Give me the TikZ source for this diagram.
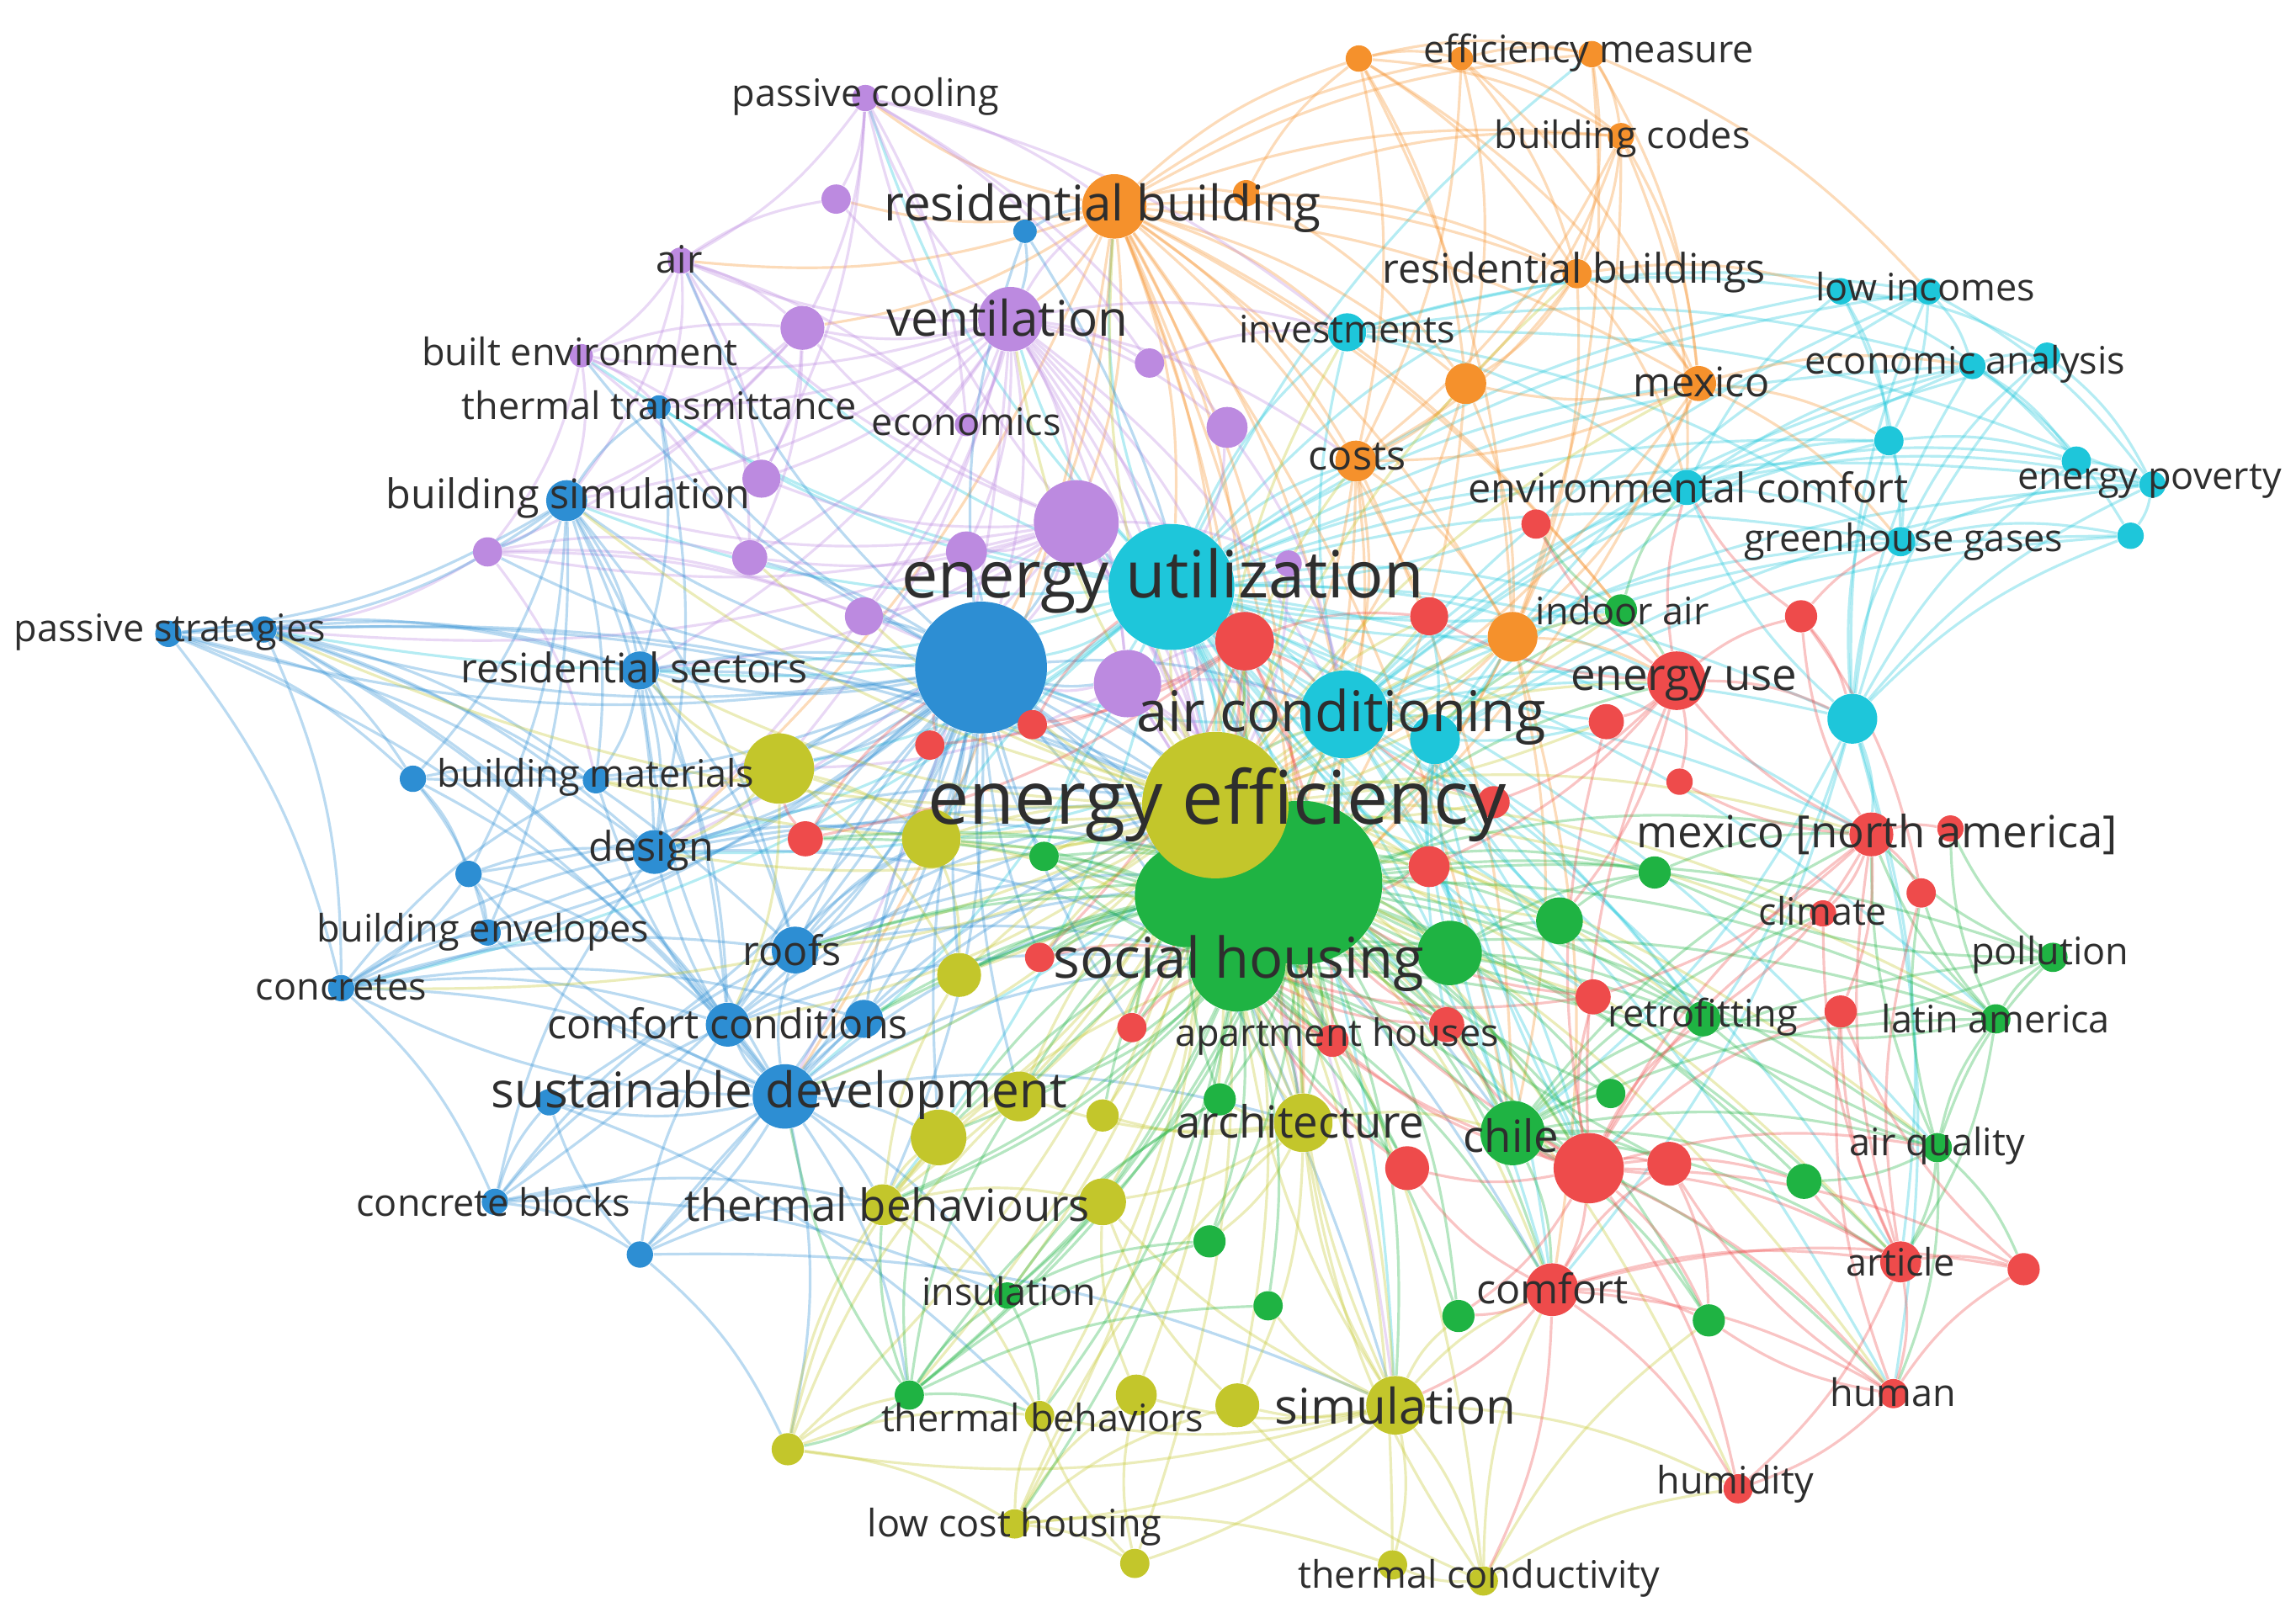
\documentclass[tikz,border=0pt]{standalone}
\usepackage{fontspec}
\setmainfont{Open Sans}
\pgfdeclarelayer{background}
\pgfsetlayers{background,main}
\definecolor{cRed}{HTML}{EE4B4B}
\definecolor{cGrn}{HTML}{1FB343}
\definecolor{cBlu}{HTML}{2D8ED3}
\definecolor{cYel}{HTML}{C3C62B}
\definecolor{cPur}{HTML}{BC8AE0}
\definecolor{cCya}{HTML}{1EC6DA}
\definecolor{cOra}{HTML}{F5912C}

\begin{document}
\begin{tikzpicture}[
        x=0.0174cm, y=-0.0174cm,
        kw/.style={circle, inner sep=0pt, minimum size=#1*0.348mm},
        rnode/.style={kw=#1, fill=cRed},
        gnode/.style={kw=#1, fill=cGrn},
        bnode/.style={kw=#1, fill=cBlu},
        ynode/.style={kw=#1, fill=cYel},
        pnode/.style={kw=#1, fill=cPur},
        cnode/.style={kw=#1, fill=cCya},
        onode/.style={kw=#1, fill=cOra},
        link/.style={line width=.9pt, draw opacity=.33, bend left=12},
        redge/.style={link, draw=cRed},
        gedge/.style={link, draw=cGrn},
        bedge/.style={link, draw=cBlu},
        yedge/.style={link, draw=cYel},
        pedge/.style={link, draw=cPur},
        cedge/.style={link, draw=cCya},
        oedge/.style={link, draw=cOra},
        lbl/.style={inner sep=0pt, text=black!82},
        lS/.style={lbl, font=\fontsize{12.8}{14}\selectfont},
        lM/.style={lbl, font=\fontsize{13.8}{15}\selectfont},
        lL/.style={lbl, font=\fontsize{15}{17}\selectfont},
        lXL/.style={lbl, font=\fontsize{16.6}{19}\selectfont},
        lH/.style={lbl, font=\fontsize{19}{22}\selectfont},
        lT/.style={lbl, font=\fontsize{22}{26}\selectfont},
        lTT/.style={lbl, font=\fontsize{25}{29}\selectfont}
    ]
    \useasboundingbox (0,0) rectangle (1568,1105);

    % orange cluster
    \node[onode=9]  (em1) at (928,40) {};
    \node[onode=8]  (em2) at (998,40) {};
    \node[onode=9]  (em)  at (1087,37) {};
    \node[onode=9]  (bc)  at (1107,93) {};
    \node[onode=22] (rb)  at (761,141) {};
    \node[onode=9]  (o1)  at (851,132) {};
    \node[onode=10] (rbs) at (1077,187) {};
    \node[onode=12] (mex) at (1160,262) {};
    \node[onode=14] (o2)  at (1001,262) {};
    \node[onode=14] (cst) at (926,315) {};
    \node[onode=17] (o3)  at (1033,435) {};

    % cyan cluster
    \node[cnode=43] (eu)  at (800,401) {};
    \node[cnode=30] (ac)  at (918,488) {};
    \node[cnode=17] (c1)  at (980,505) {};
    \node[cnode=13] (inv) at (920,227) {};
    \node[cnode=9]  (li1) at (1257,199) {};
    \node[cnode=9]  (li)  at (1317,199) {};
    \node[cnode=9]  (ea)  at (1347,250) {};
    \node[cnode=9]  (ea2) at (1398,243) {};
    \node[cnode=10] (c2)  at (1290,301) {};
    \node[cnode=10] (ep1) at (1418,315) {};
    \node[cnode=9]  (ep)  at (1470,331) {};
    \node[cnode=12] (ec)  at (1152,333) {};
    \node[cnode=10] (gg)  at (1298,370) {};
    \node[cnode=9]  (gg2) at (1455,366) {};
    \node[cnode=17] (c3)  at (1265,491) {};

    % purple cluster
    \node[pnode=9]  (pc)  at (591,67) {};
    \node[pnode=10] (p1)  at (571,136) {};
    \node[pnode=9]  (air) at (465,178) {};
    \node[pnode=8]  (be)  at (397,243) {};
    \node[pnode=22] (ven) at (690,218) {};
    \node[pnode=15] (p2)  at (548,224) {};
    \node[pnode=10] (p3)  at (785,248) {};
    \node[pnode=14] (p4)  at (838,292) {};
    \node[pnode=8]  (eco) at (660,290) {};
    \node[pnode=13] (p5)  at (520,327) {};
    \node[pnode=10] (p6)  at (333,377) {};
    \node[pnode=12] (p7)  at (512,381) {};
    \node[pnode=29] (p8)  at (735,357) {};
    \node[pnode=14] (p9)  at (660,377) {};
    \node[pnode=13] (p10) at (590,421) {};
    \node[pnode=23] (p11) at (770,467) {};
    \node[pnode=9]  (p12) at (880,385) {};

    % blue cluster
    \node[bnode=8]  (tt)  at (450,278) {};
    \node[bnode=14] (bs)  at (387,342) {};
    \node[bnode=9]  (ps1) at (115,433) {};
    \node[bnode=9]  (ps)  at (180,430) {};
    \node[bnode=13] (rs)  at (437,458) {};
    \node[bnode=45] (b1)  at (670,456) {};
    \node[bnode=8]  (b2)  at (700,158) {};
    \node[bnode=9]  (bm1) at (282,532) {};
    \node[bnode=9]  (bm)  at (407,533) {};
    \node[bnode=15] (des) at (447,582) {};
    \node[bnode=9]  (b3)  at (320,597) {};
    \node[bnode=9]  (ben) at (333,637) {};
    \node[bnode=16] (rf)  at (543,649) {};
    \node[bnode=9]  (con) at (233,675) {};
    \node[bnode=15] (cc)  at (497,700) {};
    \node[bnode=13] (cc2) at (590,696) {};
    \node[bnode=22] (sd)  at (536,749) {};
    \node[bnode=9]  (b4)  at (375,753) {};
    \node[bnode=9]  (cb)  at (338,821) {};
    \node[bnode=9]  (b5)  at (437,857) {};

    % yellow cluster
    \node[ynode=24] (y1)  at (532,525) {};
    \node[ynode=20] (y2)  at (636,573) {};
    \node[ynode=15] (y3)  at (655,666) {};
    \node[ynode=17] (y4)  at (696,749) {};
    \node[ynode=11] (y5)  at (753,762) {};
    \node[ynode=20] (arc) at (890,767) {};
    \node[ynode=19] (y6)  at (641,777) {};
    \node[ynode=14] (tb)  at (603,823) {};
    \node[ynode=16] (y7)  at (753,821) {};
    \node[ynode=14] (y8)  at (776,953) {};
    \node[ynode=15] (y9)  at (845,960) {};
    \node[ynode=20] (sim) at (953,960) {};
    \node[ynode=11] (y10) at (538,990) {};
    \node[ynode=10] (tbs) at (710,967) {};
    \node[ynode=10] (lch) at (693,1041) {};
    \node[ynode=10] (y11) at (775,1068) {};
    \node[ynode=10] (tc1) at (951,1069) {};
    \node[ynode=10] (tc)  at (1013,1080) {};

    % green cluster
    \node[gnode=35] (g2)  at (810,612) {};
    \node[gnode=56] (g1)  at (888,603) {};
    \node[gnode=33] (sh)  at (845,658) {};
    \node[gnode=22] (g3)  at (990,651) {};
    \node[gnode=16] (g4)  at (1065,629) {};
    \node[gnode=11] (g5)  at (1130,596) {};
    \node[gnode=10] (g6)  at (713,585) {};
    \node[gnode=11] (ia)  at (1107,417) {};
    \node[gnode=22] (chl) at (1033,774) {};
    \node[gnode=12] (ret) at (1163,696) {};
    \node[gnode=10] (la)  at (1363,696) {};
    \node[gnode=10] (pol) at (1402,654) {};
    \node[gnode=10] (aq)  at (1323,784) {};
    \node[gnode=12] (g7)  at (1232,807) {};
    \node[gnode=10] (g8)  at (1100,747) {};
    \node[gnode=11] (g9)  at (833,751) {};
    \node[gnode=11] (g10) at (826,848) {};
    \node[gnode=10] (g11) at (866,892) {};
    \node[gnode=11] (g12) at (996,899) {};
    \node[gnode=11] (g13) at (1167,902) {};
    \node[gnode=9]  (ins) at (688,885) {};
    \node[gnode=10] (g14) at (621,953) {};

    % yellow hub on top of green
    \node[ynode=50] (ee)  at (830,550) {};

    % red cluster
    \node[rnode=20] (r1)  at (850,438) {};
    \node[rnode=13] (r2)  at (976,421) {};
    \node[rnode=10] (r3)  at (1049,358) {};
    \node[rnode=11] (r4)  at (1230,421) {};
    \node[rnode=20] (eus) at (1145,465) {};
    \node[rnode=12] (r5)  at (1097,493) {};
    \node[rnode=9]  (r6)  at (1147,534) {};
    \node[rnode=10] (r7)  at (705,495) {};
    \node[rnode=10] (r8)  at (635,509) {};
    \node[rnode=12] (r9)  at (550,573) {};
    \node[rnode=11] (r10) at (1020,548) {};
    \node[rnode=14] (r11) at (976,592) {};
    \node[rnode=15] (mna) at (1278,570) {};
    \node[rnode=9]  (r12) at (1332,566) {};
    \node[rnode=10] (r13) at (1312,610) {};
    \node[rnode=9]  (cli) at (1245,624) {};
    \node[rnode=12] (r14) at (1088,681) {};
    \node[rnode=11] (r15) at (1257,691) {};
    \node[rnode=10] (r16) at (710,654) {};
    \node[rnode=10] (r17) at (773,702) {};
    \node[rnode=11] (ah)  at (910,711) {};
    \node[rnode=12] (r18) at (988,700) {};
    \node[rnode=15] (r19) at (961,798) {};
    \node[rnode=24] (r20) at (1085,798) {};
    \node[rnode=15] (r21) at (1140,795) {};
    \node[rnode=18] (cmf) at (1060,881) {};
    \node[rnode=14] (art) at (1298,862) {};
    \node[rnode=11] (r22) at (1382,867) {};
    \node[rnode=10] (hum) at (1293,952) {};
    \node[rnode=10] (hmd) at (1187,1017) {};

    % links
    \begin{pgfonlayer}{background}
    \foreach \t in {ac,c1,inv,li1,li,ea,ec,gg,c2,c3,ep,cst,rb,ven,b1,ee,sh,g1,r1,p8,eus,mex,rbs,ia,ret,mna,bs,rs,des,sd,arc,chl,cmf,sim,y1,tb,pc,air,be,tt,em,r20,hum,aq,ps,con,la}
        \draw[cedge] (eu) to (\t);
    \foreach \t in {c1,c3,gg,ec,ea,li,inv,ee,g1,sh,eus,mna,r20,chl,art,ep,gg2,c2,ea2,cmf,ret,b1,des,sd}
        \draw[cedge] (ac) to (\t);
    \foreach \t in {gg2,ep,ep1,ea2,li,ea,gg,c2,ec,mna,r20,cmf,art,hum,chl}
        \draw[cedge] (c3) to (\t);
    \foreach \s/\t in {li/ea,li/c2,li1/ea2,li1/gg,ea/gg2,ea/ep1,ea2/ep,c2/ep1,c2/gg,ep1/ep,ep/gg2,gg/gg2,gg/ep,li/ep,li1/c2,ec/gg,ec/ea,ec/li1,inv/li1,inv/ec,inv/ea,inv/gg,c1/gg2,c1/ep,ec/ep1,li1/ep1,li/li1,ea/ea2,inv/li,c1/li,c1/ea,ec/c2,gg/ea2,inv/ep,ec/ep}
        \draw[cedge] (\s) to (\t);

    \foreach \t in {em1,em2,em,bc,rbs,mex,o2,cst,o3,o1,ven,eu,ee,sh,g1,ac,inv,p2,pc,air,p1,b1,p8,ia,eus,r2,r1,sd,des,chl,arc}
        \draw[oedge] (rb) to (\t);
    \foreach \s/\t in {em1/em2,em1/em,em1/bc,em1/rbs,em1/o2,em1/mex,em1/cst,em1/o3,em2/em,em2/bc,em2/rbs,em2/mex,em2/o2,em2/cst,em/bc,em/rbs,em/mex,em/o3,em/li,bc/rbs,bc/mex,bc/o2,bc/cst,bc/o3,bc/ec,rbs/mex,rbs/o2,rbs/cst,rbs/o3,rbs/li1,rbs/ec,mex/o2,mex/cst,mex/o3,mex/ea,mex/c2,mex/gg,mex/ee,mex/sh,o2/cst,o2/o3,o2/ee,o2/g1,cst/o3,cst/ee,cst/sh,cst/ac,cst/g1,cst/chl,o3/ee,o3/sh,o3/g1,o3/eus,o3/chl,o3/cmf,o1/em1,o1/bc,o1/rbs,o1/o2}
        \draw[oedge] (\s) to (\t);

    \foreach \t in {pc,p1,air,be,p2,p3,p4,eco,p5,p7,p8,p9,p10,p11,eu,ee,b1,bs,tt,rs,ac,sh,g1,inv,rb,cst,sd,des,y1,r1}
        \draw[pedge] (ven) to (\t);
    \foreach \t in {pc,air,p2,p5,p6,p7,p9,p10,p11,bs,ee,b1,g1,sh,rs,ps,des,arc,sim,p12}
        \draw[pedge] (p8) to (\t);
    \foreach \s/\t in {pc/p1,pc/air,pc/p2,pc/p3,pc/p4,pc/eco,pc/p5,pc/rb,pc/inv,air/be,air/p1,air/p2,air/p5,air/p7,air/eco,air/bs,air/tt,be/p2,be/p5,be/p6,be/tt,be/bs,be/p7,p2/p5,p2/p7,p2/eco,p2/tt,p2/bs,p2/p6,p6/ps,p6/p7,p6/p10,p6/b1,p6/bm,p11/ee,p11/g1,p11/sh,p11/ac,p11/b1,p11/r1,p11/y1,p11/arc,p4/eu,p4/ac,p3/inv,p12/ac,p12/ee}
        \draw[pedge] (\s) to (\t);

    \foreach \t in {bs,tt,rs,bm,bm1,ps,ps1,des,b3,ben,rf,con,cc,cc2,sd,b4,cb,b5,ee,g1,sh,ac,y1,y2,arc,sim,tb,b2,be,air,chl,cmf,p6}
        \draw[bedge] (b1) to (\t);
    \foreach \t in {cc,cc2,rf,des,bm,rs,b4,cb,b5,con,ben,b3,ee,g2,sh,tb,y6,arc,ins,g14,y10}
        \draw[bedge] (sd) to (\t);
    \foreach \s/\t in {bs/tt,bs/rs,bs/ps,bs/ps1,bs/bm,bs/bm1,bs/des,bs/b3,bs/ben,bs/cc,bs/rf,bs/p6,ps/ps1,ps/rs,ps/bm1,ps/bm,ps/des,ps/cc,ps/sd,ps/con,ps/rf,ps/ee,ps1/rs,ps1/bm1,ps1/des,ps1/cc,ps1/ee,ps1/con,con/cc,con/sd,con/rf,con/des,con/ben,con/bm,con/cb,con/ee,con/cc2,cb/b4,cb/cc,cb/b5,cb/rf,cb/des,cb/tb,b5/cc,b5/tb,b5/y10,b5/b4,b5/ee,b5/sim,cb/ins,b4/tbs,rs/des,rs/bm,rs/rf,rs/cc,rs/ee,des/ee,des/g1,des/sh,des/y2,rf/ee,rf/g1,rf/sh,rf/y2,cc/ee,cc/g1,cc/sh,cc/y2,bm1/b3,bm1/ben,bm1/bm,bm1/sd,b3/ben,b3/con,b3/des,b3/cc,tt/rs,tt/des,b2/ven,b2/ee,b2/rb}
        \draw[bedge] (\s) to (\t);

    \foreach \t in {y1,y2,y3,y4,y5,arc,y6,tb,y7,y8,y9,sim,y10,tbs,lch,y11,tc1,tc,g1,g2,sh,g3,g4,chl,r1,r2,r10,r11,r20,cmf,eus,mna,ac,eu,b1,rf,des,cc,sd,bm,rs,bs,ia,ret,art,hum,aq,la,cli,ah,p10,p7,ven,mex,cst,rbs,inv,rb,ps,con,hmd,ins,g14}
        \draw[yedge] (ee) to (\t);
    \foreach \t in {tc1,tc,y9,y8,tbs,lch,y11,arc,y7,g12,g11,cmf,hmd,sh,g1,y10}
        \draw[yedge] (sim) to (\t);
    \foreach \s/\t in {y10/tbs,y10/lch,y10/g14,y10/y4,y10/y6,y10/tb,lch/y11,lch/tbs,lch/y8,lch/y9,lch/arc,lch/tc1,tc/tc1,tc/y9,tc/arc,tc/cmf,tc/hmd,tc/g13,tb/y6,tb/y7,tb/tbs,tb/y4,tb/y3,tb/ins,tb/sh,arc/y7,arc/y5,arc/y4,arc/g9,arc/g10,arc/chl,arc/y9,arc/sh,arc/g1,y1/y2,y1/y3,y1/rs,y1/bm,y1/des,y1/cc,y2/y3,y2/sh,y11/y8,y11/tbs,y8/y7,y9/y7}
        \draw[yedge] (\s) to (\t);

    \foreach \t in {g2,sh,g3,g4,g5,chl,ret,la,pol,aq,g7,g8,g9,g10,g12,g13,ins,g14,ia,r1,r11,r20,cmf,eus,mna,cli,art,ac,arc,sim,y6,tb,g6}
        \draw[gedge] (g1) to (\t);
    \foreach \t in {g2,g3,chl,ret,g9,g10,ins,g14,g11,g12,aq,la,cmf,r20,r19,arc,y4,tb,tbs,lch,g6}
        \draw[gedge] (sh) to (\t);
    \foreach \t in {ret,la,pol,aq,g7,g8,g13,cmf,r20,r21,art,mna,cli,hum}
        \draw[gedge] (chl) to (\t);
    \foreach \s/\t in {g14/ins,g14/tbs,g14/g9,g14/g10,g14/y6,g14/y4,g14/tb,g14/y10,g14/sd,g14/g11,aq/la,aq/pol,aq/g7,aq/ret,aq/art,aq/hum,aq/r22,aq/mna,aq/r13,la/pol,la/ret,la/mna,la/r13,la/r12,la/art,pol/g5,pol/mna,pol/r12,pol/ret,ins/g9,ins/g10,ins/tbs,g3/g4,g3/g5,g3/ret,g4/g5,g4/ret,g5/mna,ia/eus,ia/r3,ia/ec}
        \draw[gedge] (\s) to (\t);

    \foreach \t in {cmf,r21,r19,chl,art,hum,hmd,r22,r14,r15,mna,cli,eus,r5,r18,ah,g12,g13,ret,aq,g7,sh,ee}
        \draw[redge] (r20) to (\t);
    \foreach \t in {hmd,hum,art,r22,r21,r19,g13,g12,sim,tc}
        \draw[redge] (cmf) to (\t);
    \foreach \s/\t in {art/hum,art/hmd,art/r22,art/r15,art/cli,art/mna,art/r13,art/g7,hum/hmd,hum/r22,hum/r21,hum/g13,hum/r15,mna/r12,mna/r13,mna/cli,mna/r15,mna/r14,mna/eus,mna/r6,mna/r4,mna/ret,eus/r4,eus/r5,eus/r6,eus/r3,eus/r2,eus/r10,eus/r11,eus/g4,eus/ec,eus/c3,r1/r2,r1/r7,r1/r8,r1/r9,r1/ee,r1/g1,r1/eu,r1/ac,r1/r16,r1/r17,r1/ah,r4/ec,r4/gg,r4/c3,r4/r13,r14/g1,r14/sh,r18/g1,r18/sh,ah/sh,ah/g1,r17/sh,r16/sh,r9/y1,r9/b1,r8/b1,r7/eu,r11/g1,r10/ac,r22/r15,r21/g13,r19/sh}
        \draw[redge] (\s) to (\t);

    % dense core
    \foreach \t in {p8,p11,p9,p10,r7,r8,r9,y1,y2,y3,g6,rf,cc2,r16,r17,y4,y6,des,rs,cc,p7}
        \draw[bedge] (b1) to[bend right=8] (\t);
    \foreach \t in {p11,r1,r2,r10,r11,c1,o3,g3,g4,g2,y2,g6,r16,r17,ah,r18,y3,y4,arc,r14,r5,p12,ia}
        \draw[yedge] (ee) to[bend right=8] (\t);
    \foreach \t in {r2,r10,r11,c1,o3,r5,g3,g4,ah,r18,r14,p12,ia,r3,y2,g6}
        \draw[cedge] (eu) to[bend right=8] (\t);
    \foreach \t in {r10,r11,c1,r18,r14,ah,r17,r16,y2,y3,y4,y6,g6,r9,rf,cc2,g8,r21,r19}
        \draw[gedge] (g1) to[bend right=8] (\t);
    \foreach \t in {y2,y3,y6,y4,r16,r17,cc2,rf,r9,g6,g9,y5,r19,r18,ah}
        \draw[gedge] (g2) to[bend right=8] (\t);
    \foreach \t in {r1,r2,r10,r11,o3,r5,g3,g4,g5,ret,r14,r18,chl,r20}
        \draw[cedge] (c1) to[bend right=8] (\t);
    \end{pgfonlayer}

    % labels
    \node[lS]  (t-em)  at (1085,36)  {efficiency measure};
    \node[lS]  (t-bc)  at (1108,95)  {building codes};
    \node[lS]  (t-pc)  at (591,66)   {passive cooling};
    \node[lXL] (t-rb)  at (753,142)  {residential building};
    \node[lS]  (t-air) at (464,177)  {air};
    \node[lM]  (t-rbs) at (1075,186) {residential buildings};
    \node[lS]  (t-li)  at (1315,196) {low incomes};
    \node[lS]  (t-be)  at (396,240)  {built environment};
    \node[lXL] (t-ven) at (688,217)  {ventilation};
    \node[lS]  (t-inv) at (920,225)  {investments};
    \node[lS]  (t-ea)  at (1342,249) {economic analysis};
    \node[lS]  (t-tt)  at (450,277)  {thermal transmittance};
    \node[lS]  (t-eco) at (660,288)  {economics};
    \node[lM]  (t-mex) at (1162,261) {mexico};
    \node[lM]  (t-cst) at (927,312)  {costs};
    \node[lM]  (t-bs)  at (388,340)  {building simulation};
    \node[lM]  (t-ec)  at (1153,333) {environmental comfort};
    \node[lS]  (t-ep)  at (1468,329) {energy poverty};
    \node[lS]  (t-gg)  at (1300,370) {greenhouse gases};
    \node[lT]  (t-eu)  at (794,397)  {energy utilization};
    \node[lS]  (t-ia)  at (1108,417) {indoor air};
    \node[lS]  (t-ps)  at (116,432)  {passive strategies};
    \node[lM]  (t-rs)  at (433,456)  {residential sectors};
    \node[lL]  (t-eus) at (1150,467) {energy use};
    \node[lH]  (t-ac)  at (916,490)  {air conditioning};
    \node[lS]  (t-bm)  at (407,531)  {building materials};
    \node[lTT] (t-ee)  at (831,550)  {energy efficiency};
    \node[lL]  (t-mna) at (1282,570) {mexico [north america]};
    \node[lM]  (t-des) at (445,581)  {design};
    \node[lS]  (t-cli) at (1245,622) {climate};
    \node[lS]  (t-ben) at (330,637)  {building envelopes};
    \node[lM]  (t-rf)  at (541,649)  {roofs};
    \node[lH]  (t-sh)  at (846,658)  {social housing};
    \node[lS]  (t-pol) at (1400,652) {pollution};
    \node[lS]  (t-con) at (233,675)  {concretes};
    \node[lM]  (t-cc)  at (497,699)  {comfort conditions};
    \node[lS]  (t-ret) at (1163,695) {retrofitting};
    \node[lS]  (t-la)  at (1363,696) {latin america};
    \node[lS]  (t-ah)  at (913,708)  {apartment houses};
    \node[lXL] (t-sd)  at (532,748)  {sustainable development};
    \node[lL]  (t-arc) at (888,766)  {architecture};
    \node[lL]  (t-chl) at (1032,776) {chile};
    \node[lS]  (t-aq)  at (1323,783) {air quality};
    \node[lS]  (t-cb)  at (337,821)  {concrete blocks};
    \node[lL]  (t-tb)  at (606,823)  {thermal behaviours};
    \node[lS]  (t-ins) at (689,882)  {insulation};
    \node[lM]  (t-cmf) at (1060,880) {comfort};
    \node[lS]  (t-art) at (1298,862) {article};
    \node[lXL] (t-sim) at (953,960)  {simulation};
    \node[lS]  (t-tbs) at (712,968)  {thermal behaviors};
    \node[lS]  (t-hum) at (1293,951) {human};
    \node[lS]  (t-hmd) at (1185,1014) {humidity};
    \node[lS]  (t-lch) at (693,1043) {low cost housing};
    \node[lS]  (t-tc)  at (1010,1078) {thermal conductivity};

\end{tikzpicture}
\end{document}
